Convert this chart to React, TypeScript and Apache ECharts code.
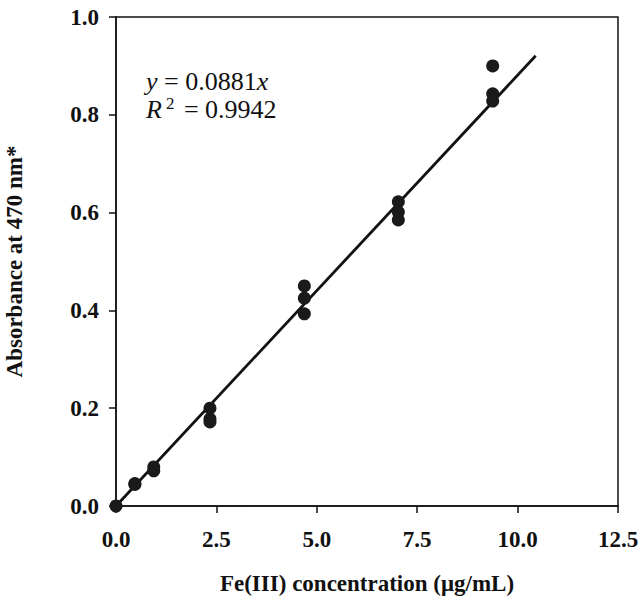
import React, { useEffect, useRef } from "react";
import * as echarts from "echarts";

const concentrations = [0, 0.47, 0.47, 0.94, 0.94, 2.34, 2.34, 2.34, 4.69, 4.69, 4.69, 7.03, 7.03, 7.03, 9.38, 9.38, 9.38];
const absorbances = [0.0, 0.044, 0.046, 0.08, 0.072, 0.2, 0.178, 0.172, 0.45, 0.425, 0.393, 0.622, 0.601, 0.585, 0.9, 0.843, 0.828];
const fitSlope = 0.0881;
const fitX = [0, 10.45];
const xTicks = { min: 0, max: 12.5, interval: 2.5 };
const yTicks = { min: 0, max: 1.0, interval: 0.2 };

const serif = "Liberation Serif";

export default function App() {
  const ref = useRef<HTMLDivElement>(null);
  useEffect(() => {
    if (!ref.current) return;
    const chart = echarts.init(ref.current, undefined, { renderer: "svg" });
    const points = concentrations.map((c, i) => [c, absorbances[i]]);
    const line = fitX.map((x) => [x, fitSlope * x]);
    chart.setOption({
      animation: false,
      backgroundColor: "#fff",
      textStyle: { fontFamily: serif },
      grid: {
        left: 116,
        right: 21,
        top: 17,
        bottom: 94,
        containLabel: false,
        outerBoundsMode: "none",
        show: true,
        borderColor: "#111",
        borderWidth: 1.5,
      },
      xAxis: {
        type: "value",
        min: xTicks.min,
        max: xTicks.max,
        interval: xTicks.interval,
        name: "Fe(III) concentration (\u03bcg/mL)",
        nameLocation: "middle",
        nameGap: 66,
        nameTextStyle: { fontFamily: serif, fontWeight: "bold", fontSize: 23, color: "#111" },
        axisLine: { show: true, lineStyle: { color: "#111", width: 1.5 } },
        axisTick: { show: true, inside: false, length: 7, lineStyle: { color: "#111", width: 1.5 } },
        axisLabel: {
          margin: 22,
          fontFamily: serif,
          fontWeight: "bold",
          fontSize: 23,
          color: "#111",
          formatter: (v: number) => v.toFixed(1),
        },
        splitLine: { show: false },
      },
      yAxis: {
        type: "value",
        min: yTicks.min,
        max: yTicks.max,
        interval: yTicks.interval,
        name: "Absorbance at 470 nm*",
        nameLocation: "middle",
        nameGap: 90,
        nameTextStyle: { fontFamily: serif, fontWeight: "bold", fontSize: 23, color: "#111" },
        axisLine: { show: true, lineStyle: { color: "#111", width: 1.5 } },
        axisTick: { show: true, inside: false, length: 7, lineStyle: { color: "#111", width: 1.5 } },
        axisLabel: {
          margin: 17,
          fontFamily: serif,
          fontWeight: "bold",
          fontSize: 23,
          color: "#111",
          formatter: (v: number) => v.toFixed(1),
        },
        splitLine: { show: false },
      },
      series: [
        {
          type: "line",
          data: line,
          symbol: "none",
          lineStyle: { color: "#111", width: 2.8 },
          z: 2,
        },
        {
          type: "scatter",
          data: points,
          symbol: "circle",
          symbolSize: 13,
          itemStyle: { color: "#1a1a1a", opacity: 1 },
          z: 3,
        },
      ],
      graphic: [
        {
          type: "text",
          left: 146,
          top: 67,
          style: {
            text: "{i|y} = 0.0881{i|x}\n{i|R}{sup|2} = 0.9942",
            fontFamily: serif,
            fontSize: 26,
            fill: "#111",
            lineHeight: 28,
            rich: {
              i: { fontFamily: serif, fontStyle: "italic", fontSize: 26, fill: "#111", lineHeight: 28 },
              sup: { fontFamily: serif, fontSize: 17, fill: "#111", verticalAlign: "top", padding: [0, 3, 8, 4], lineHeight: 28 },
            },
          },
        },
      ],
    });
    return () => chart.dispose();
  }, []);
  return <div ref={ref} style={{ position: "absolute", left: 0, top: 0, width: 639, height: 600 }} />;
}
